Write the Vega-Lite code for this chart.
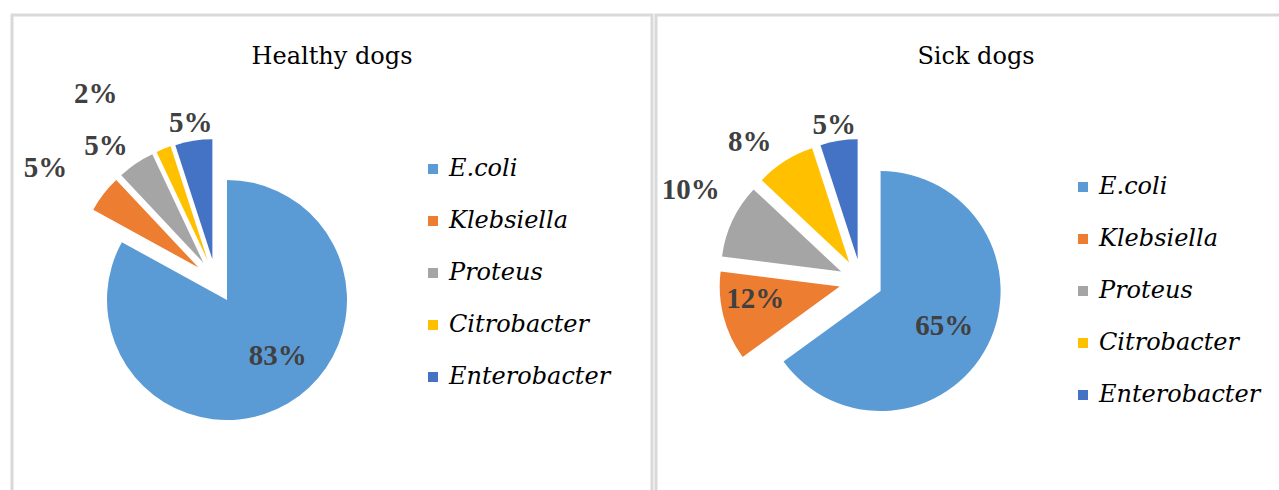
{
  "$schema": "https://vega.github.io/schema/vega-lite/v6.json",
  "padding": {"left": 10, "top": 13, "right": 0, "bottom": 0},
  "background": "white",
  "config": {"view": {"stroke": "#d9d9d9", "strokeWidth": 3}},
  "datasets": {
    "healthy": [
      {"bacteria": "E.coli", "share": 0.83, "rank": 1},
      {"bacteria": "Klebsiella", "share": 0.05, "rank": 2},
      {"bacteria": "Proteus", "share": 0.05, "rank": 3},
      {"bacteria": "Citrobacter", "share": 0.02, "rank": 4},
      {"bacteria": "Enterobacter", "share": 0.05, "rank": 5}
    ],
    "sick": [
      {"bacteria": "E.coli", "share": 0.65, "rank": 1},
      {"bacteria": "Klebsiella", "share": 0.12, "rank": 2},
      {"bacteria": "Proteus", "share": 0.10, "rank": 3},
      {"bacteria": "Citrobacter", "share": 0.08, "rank": 4},
      {"bacteria": "Enterobacter", "share": 0.05, "rank": 5}
    ]
  },
  "spacing": 0,
  "resolve": {"scale": {"color": "independent", "theta": "independent"}, "legend": {"color": "independent"}},
  "hconcat": [
    {
      "width": 640,
      "height": 490,
      "view": {"stroke": "#d9d9d9", "strokeWidth": 3},
      "data": {"name": "healthy"},
      "title": {"text": "Healthy dogs", "font": "DejaVu Serif", "fontSize": 24, "fontWeight": "normal", "color": "#000000", "offset": -73, "baseline": "alphabetic", "anchor": "middle", "frame": "group"},
      "encoding": {
        "theta": {"field": "share", "type": "quantitative", "stack": true, "scale": {"domain": [0, 1]}},
        "order": {"field": "rank", "type": "quantitative"},
        "color": {
          "field": "bacteria", "type": "nominal",
          "scale": {"domain": ["E.coli", "Klebsiella", "Proteus", "Citrobacter", "Enterobacter"], "range": ["#5B9BD5", "#ED7D31", "#A5A5A5", "#FFC000", "#4472C4"]},
          "sort": ["E.coli", "Klebsiella", "Proteus", "Citrobacter", "Enterobacter"],
          "legend": {"orient": "none", "legendX": 409, "legendY": 142, "title": null, "symbolType": "square", "symbolSize": 100, "symbolStrokeWidth": 0, "labelFont": "DejaVu Serif", "labelFontStyle": "italic", "labelFontSize": 24, "labelColor": "#000000", "labelOffset": 4, "rowPadding": 28, "padding": 0, "labelLimit": 300}
        }
      },
      "layer": [
        {
          "encoding": {"opacity": {"condition": {"test": "datum.bacteria === 'E.coli'", "value": 1}, "value": 0}},
          "layer": [
            {"mark": {"type": "arc", "radius": 120, "x": 215, "y": 285}},
            {"mark": {"type": "text", "clip": true, "radius": 76, "x": 215, "y": 285, "dx": 12, "dy": -9, "font": "Liberation Serif", "fontWeight": "bold", "fontSize": 29, "align": "center", "baseline": "middle"},
             "encoding": {"text": {"condition": {"test": "datum.bacteria === 'E.coli'", "field": "share", "type": "quantitative", "format": ".0%"}, "value": ""}, "color": {"value": "#404040"}}}
          ]
        },
        {
          "encoding": {"opacity": {"condition": {"test": "datum.bacteria === 'Klebsiella'", "value": 1}, "value": 0}},
          "layer": [
            {"mark": {"type": "arc", "radius": 120, "x": 186.4, "y": 252.5}},
            {"mark": {"type": "text", "clip": true, "radius": 182, "x": 186.4, "y": 252.5, "dx": -9, "dy": 12, "font": "Liberation Serif", "fontWeight": "bold", "fontSize": 29, "align": "center", "baseline": "middle"},
             "encoding": {"text": {"condition": {"test": "datum.bacteria === 'Klebsiella'", "field": "share", "type": "quantitative", "format": ".0%"}, "value": ""}, "color": {"value": "#404040"}}}
          ]
        },
        {
          "encoding": {"opacity": {"condition": {"test": "datum.bacteria === 'Proteus'", "value": 1}, "value": 0}},
          "layer": [
            {"mark": {"type": "arc", "radius": 120, "x": 191.4, "y": 247.8}},
            {"mark": {"type": "text", "clip": true, "radius": 152, "x": 191.4, "y": 247.8, "dx": -12, "dy": 9, "font": "Liberation Serif", "fontWeight": "bold", "fontSize": 29, "align": "center", "baseline": "middle"},
             "encoding": {"text": {"condition": {"test": "datum.bacteria === 'Proteus'", "field": "share", "type": "quantitative", "format": ".0%"}, "value": ""}, "color": {"value": "#404040"}}}
          ]
        },
        {
          "encoding": {"opacity": {"condition": {"test": "datum.bacteria === 'Citrobacter'", "value": 1}, "value": 0}},
          "layer": [
            {"mark": {"type": "arc", "radius": 120, "x": 195.7, "y": 245.5}},
            {"mark": {"type": "text", "clip": true, "radius": 201, "x": 195.7, "y": 245.5, "dx": -38, "dy": 20, "font": "Liberation Serif", "fontWeight": "bold", "fontSize": 29, "align": "center", "baseline": "middle"},
             "encoding": {"text": {"condition": {"test": "datum.bacteria === 'Citrobacter'", "field": "share", "type": "quantitative", "format": ".0%"}, "value": ""}, "color": {"value": "#404040"}}}
          ]
        },
        {
          "encoding": {"opacity": {"condition": {"test": "datum.bacteria === 'Enterobacter'", "value": 1}, "value": 0}},
          "layer": [
            {"mark": {"type": "arc", "radius": 120, "x": 200.4, "y": 244.3}},
            {"mark": {"type": "text", "clip": true, "radius": 138, "x": 200.4, "y": 244.3, "font": "Liberation Serif", "fontWeight": "bold", "fontSize": 29, "align": "center", "baseline": "middle"},
             "encoding": {"text": {"condition": {"test": "datum.bacteria === 'Enterobacter'", "field": "share", "type": "quantitative", "format": ".0%"}, "value": ""}, "color": {"value": "#404040"}}}
          ]
        }
      ]
    },
    {
      "width": 640,
      "height": 490,
      "view": {"stroke": "#d9d9d9", "strokeWidth": 3},
      "data": {"name": "sick"},
      "title": {"text": "Sick dogs", "font": "DejaVu Serif", "fontSize": 24, "fontWeight": "normal", "color": "#000000", "offset": -73, "baseline": "alphabetic", "anchor": "middle", "frame": "group"},
      "encoding": {
        "theta": {"field": "share", "type": "quantitative", "stack": true, "scale": {"domain": [0, 1]}},
        "order": {"field": "rank", "type": "quantitative"},
        "color": {
          "field": "bacteria", "type": "nominal",
          "scale": {"domain": ["E.coli", "Klebsiella", "Proteus", "Citrobacter", "Enterobacter"], "range": ["#5B9BD5", "#ED7D31", "#A5A5A5", "#FFC000", "#4472C4"]},
          "sort": ["E.coli", "Klebsiella", "Proteus", "Citrobacter", "Enterobacter"],
          "legend": {"orient": "none", "legendX": 415, "legendY": 160, "title": null, "symbolType": "square", "symbolSize": 100, "symbolStrokeWidth": 0, "labelFont": "DejaVu Serif", "labelFontStyle": "italic", "labelFontSize": 24, "labelColor": "#000000", "labelOffset": 4, "rowPadding": 28, "padding": 0, "labelLimit": 300}
        }
      },
      "layer": [
        {
          "encoding": {"opacity": {"condition": {"test": "datum.bacteria === 'E.coli'", "value": 1}, "value": 0}},
          "layer": [
            {"mark": {"type": "arc", "radius": 120, "x": 224.6, "y": 276}},
            {"mark": {"type": "text", "clip": true, "radius": 76, "x": 224.6, "y": 276, "dx": -4, "font": "Liberation Serif", "fontWeight": "bold", "fontSize": 29, "align": "center", "baseline": "middle"},
             "encoding": {"text": {"condition": {"test": "datum.bacteria === 'E.coli'", "field": "share", "type": "quantitative", "format": ".0%"}, "value": ""}, "color": {"value": "#404040"}}}
          ]
        },
        {
          "encoding": {"opacity": {"condition": {"test": "datum.bacteria === 'Klebsiella'", "value": 1}, "value": 0}},
          "layer": [
            {"mark": {"type": "arc", "radius": 120, "x": 183.7, "y": 271.5}},
            {"mark": {"type": "text", "clip": true, "radius": 80, "x": 183.7, "y": 271.5, "dx": -7, "dy": -7, "font": "Liberation Serif", "fontWeight": "bold", "fontSize": 29, "align": "center", "baseline": "middle"},
             "encoding": {"text": {"condition": {"test": "datum.bacteria === 'Klebsiella'", "field": "share", "type": "quantitative", "format": ".0%"}, "value": ""}, "color": {"value": "#404040"}}}
          ]
        },
        {
          "encoding": {"opacity": {"condition": {"test": "datum.bacteria === 'Proteus'", "value": 1}, "value": 0}},
          "layer": [
            {"mark": {"type": "arc", "radius": 120, "x": 185.1, "y": 256.6}},
            {"mark": {"type": "text", "clip": true, "radius": 165, "x": 185.1, "y": 256.6, "dx": -1, "dy": -11, "font": "Liberation Serif", "fontWeight": "bold", "fontSize": 29, "align": "center", "baseline": "middle"},
             "encoding": {"text": {"condition": {"test": "datum.bacteria === 'Proteus'", "field": "share", "type": "quantitative", "format": ".0%"}, "value": ""}, "color": {"value": "#404040"}}}
          ]
        },
        {
          "encoding": {"opacity": {"condition": {"test": "datum.bacteria === 'Citrobacter'", "value": 1}, "value": 0}},
          "layer": [
            {"mark": {"type": "arc", "radius": 120, "x": 193.2, "y": 247.4}},
            {"mark": {"type": "text", "clip": true, "radius": 154, "x": 193.2, "y": 247.4, "dx": -17, "dy": 10, "font": "Liberation Serif", "fontWeight": "bold", "fontSize": 29, "align": "center", "baseline": "middle"},
             "encoding": {"text": {"condition": {"test": "datum.bacteria === 'Citrobacter'", "field": "share", "type": "quantitative", "format": ".0%"}, "value": ""}, "color": {"value": "#404040"}}}
          ]
        },
        {
          "encoding": {"opacity": {"condition": {"test": "datum.bacteria === 'Enterobacter'", "value": 1}, "value": 0}},
          "layer": [
            {"mark": {"type": "arc", "radius": 120, "x": 201.6, "y": 244.3}},
            {"mark": {"type": "text", "clip": true, "radius": 136, "x": 201.6, "y": 244.3, "dx": -2, "font": "Liberation Serif", "fontWeight": "bold", "fontSize": 29, "align": "center", "baseline": "middle"},
             "encoding": {"text": {"condition": {"test": "datum.bacteria === 'Enterobacter'", "field": "share", "type": "quantitative", "format": ".0%"}, "value": ""}, "color": {"value": "#404040"}}}
          ]
        }
      ]
    }
  ]
}
